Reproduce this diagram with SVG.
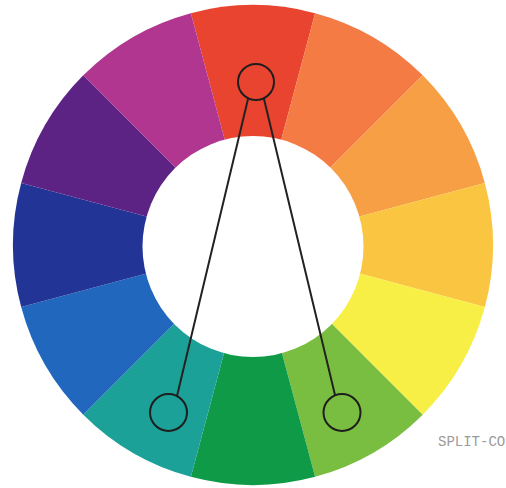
<svg xmlns="http://www.w3.org/2000/svg" width="506" height="488" viewBox="0 0 506 488">
  <style>
    .node circle { fill: none; stroke: #1e1e1e; stroke-width: 2; }
    .conn line { stroke: #222; stroke-width: 2; stroke-linecap: round; }
    .label { font-family: "Liberation Mono", "DejaVu Sans Mono", monospace; font-size: 14px; fill: #9a9a9a; }
  </style>
  <rect width="506" height="488" fill="#ffffff"/>
  <g id="wheel">
    <path d="M253,245 L190.88,13.18 A240,240 0 0 1 315.12,13.18 Z" fill="#E8442F"/>
    <path d="M253,245 L315.12,13.18 A240,240 0 0 1 422.71,75.29 Z" fill="#F47B44"/>
    <path d="M253,245 L422.71,75.29 A240,240 0 0 1 484.82,182.88 Z" fill="#F69F45"/>
    <path d="M253,245 L484.82,182.88 A240,240 0 0 1 484.82,307.12 Z" fill="#FAC641"/>
    <path d="M253,245 L484.82,307.12 A240,240 0 0 1 422.71,414.71 Z" fill="#F8EF46"/>
    <path d="M253,245 L422.71,414.71 A240,240 0 0 1 315.12,476.82 Z" fill="#7ABE41"/>
    <path d="M253,245 L315.12,476.82 A240,240 0 0 1 190.88,476.82 Z" fill="#0E9A47"/>
    <path d="M253,245 L190.88,476.82 A240,240 0 0 1 83.29,414.71 Z" fill="#1BA197"/>
    <path d="M253,245 L83.29,414.71 A240,240 0 0 1 21.18,307.12 Z" fill="#2167BE"/>
    <path d="M253,245 L21.18,307.12 A240,240 0 0 1 21.18,182.88 Z" fill="#223496"/>
    <path d="M253,245 L21.18,182.88 A240,240 0 0 1 83.29,75.29 Z" fill="#5C2384"/>
    <path d="M253,245 L83.29,75.29 A240,240 0 0 1 190.88,13.18 Z" fill="#B0368F"/>
    <circle cx="253" cy="246.5" r="110.5" fill="#ffffff"/>
  </g>
  <g id="connectors" class="conn">
    <line x1="248" y1="99" x2="177" y2="396"/>
    <line x1="264" y1="99" x2="335" y2="395"/>
  </g>
  <g id="node-top" class="node">
    <circle cx="256" cy="82" r="18"/>
  </g>
  <g id="node-left" class="node">
    <circle cx="168.5" cy="412.5" r="18.5"/>
  </g>
  <g id="node-right" class="node">
    <circle cx="342" cy="412.5" r="18.5"/>
  </g>
  <text class="label" x="438" y="446">SPLIT-CO</text>
</svg>
